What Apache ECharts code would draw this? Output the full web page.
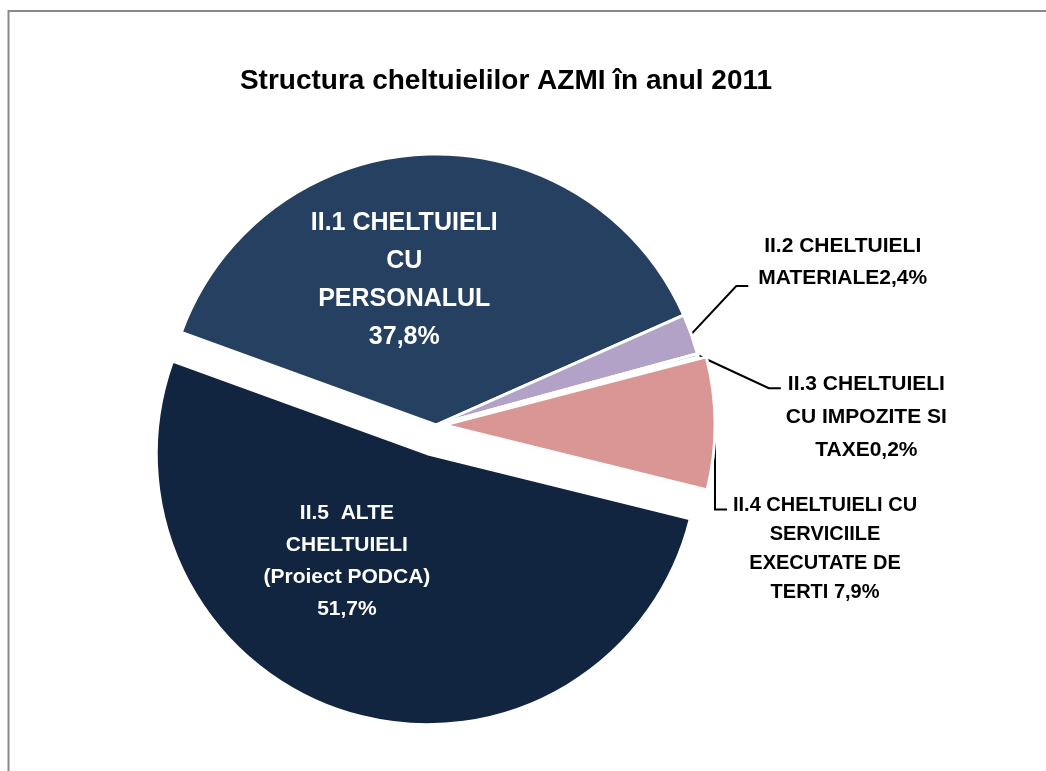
<!DOCTYPE html>
<html>
<head>
<meta charset="utf-8">
<title>Structura cheltuielilor AZMI</title>
<script src="https://cdn.jsdelivr.net/npm/echarts@6/dist/echarts.min.js"></script>
<style>
  html, body { margin: 0; padding: 0; background: #fff; }
  #main { width: 1046px; height: 771px; }
</style>
</head>
<body>
<div id="main"></div>
<script>
// categories carry the same line breaks as the original labels
const categories = [
    'II.1 CHELTUIELI\nCU\nPERSONALUL\n',
    'II.2 CHELTUIELI\nMATERIALE',
    'II.3 CHELTUIELI\nCU IMPOZITE SI\nTAXE',
    'II.4 CHELTUIELI CU\nSERVICIILE\nEXECUTATE DE\nTERTI ',
    'II.5  ALTE\nCHELTUIELI\n(Proiect PODCA)\n'
];
const values = [37.8, 2.4, 0.2, 7.9, 51.7];
const colors = ['#254061', '#B3A2C7', '#93CDDD', '#D99694', '#112440'];

const FONT = "'Liberation Sans', Arial, sans-serif";
const CENTER = [436, 425];
const RADIUS = 271;

const pct = v => v.toFixed(1).replace('.', ',') + '%';

// per-label look (index = data index)
const labelStyle = [
    { inside: true, color: '#fff', fontSize: 25, lineHeight: 38, dx: -27, dy: -6 },
    { color: '#000', fontSize: 21, lineHeight: 32, elbow: [45, -48], gap: 10, top: -56 },
    { color: '#000', fontSize: 21, lineHeight: 33, elbow: [71, 33], gap: 5, top: -21 },
    { color: '#000', fontSize: 20, lineHeight: 29, elbow: [0, 86], gap: 6, top: -18 },
    { inside: true, color: '#fff', fontSize: 21, lineHeight: 32, dx: -40, dy: -25 }
];

function buildData(visible, selected) {
    return values.map((v, i) => {
        const on = visible.indexOf(i) >= 0;
        const ls = labelStyle[i];
        return {
            name: categories[i],
            value: v,
            selected: on && selected.indexOf(i) >= 0,
            itemStyle: on
                ? { color: colors[i], borderColor: '#fff', borderWidth: 3 }
                : { color: 'rgba(0,0,0,0)', borderWidth: 0 },
            label: {
                show: on,
                position: ls.inside ? 'inside' : 'outside',
                color: ls.color,
                fontSize: ls.fontSize,
                lineHeight: ls.lineHeight,
                fontWeight: 'bold',
                fontFamily: FONT,
                align: 'center'
            },
            labelLine: { show: on && !ls.inside }
        };
    });
}

function layoutLabel(params) {
    const ls = labelStyle[params.dataIndex];
    if (ls.inside) {
        return { dx: ls.dx, dy: ls.dy };
    }
    const pts = params.labelLinePoints;
    if (!pts) return;
    const a = pts[0];
    const e = [a[0] + ls.elbow[0], a[1] + ls.elbow[1]];
    const end = [e[0] + 12, e[1]];
    const w = params.labelRect.width;
    return {
        x: end[0] + ls.gap + w / 2,
        y: end[1] + ls.top,
        align: 'center',
        verticalAlign: 'top',
        labelLinePoints: [a, e, end]
    };
}

function pieSeries(visible, selected, offset, center) {
    return {
        type: 'pie',
        center: center,
        radius: RADIUS,
        startAngle: 160,
        clockwise: true,
        avoidLabelOverlap: false,
        selectedMode: 'multiple',
        selectedOffset: offset,
        silent: true,
        animation: false,
        label: {
            formatter: p => p.name + pct(p.value),
            fontFamily: FONT
        },
        labelLine: {
            length: 20,
            length2: 12,
            lineStyle: { color: '#000', width: 2 }
        },
        labelLayout: layoutLabel,
        data: buildData(visible, selected)
    };
}

const chart = echarts.init(document.getElementById('main'));

chart.setOption({
    backgroundColor: '#fff',
    animation: false,
    title: {
        text: 'Structura cheltuielilor AZMI în anul 2011',
        left: 501,
        top: 62,
        textAlign: 'center',
        textStyle: {
            fontFamily: FONT,
            fontSize: 28,
            fontWeight: 'bold',
            color: '#000'
        }
    },
    graphic: [{
        type: 'rect',
        shape: { x: 8.5, y: 11, width: 1100, height: 800 },
        style: { fill: 'none', stroke: '#898989', lineWidth: 2 },
        silent: true
    }],
    series: [
        // II.5 pulled out of the pie
        pieSeries([0, 1, 2, 4], [4], 30, CENTER),
        // II.4 nudged slightly to the right
        pieSeries([3], [], 0, [CENTER[0] + 8, CENTER[1]])
    ]
});
</script>
</body>
</html>
